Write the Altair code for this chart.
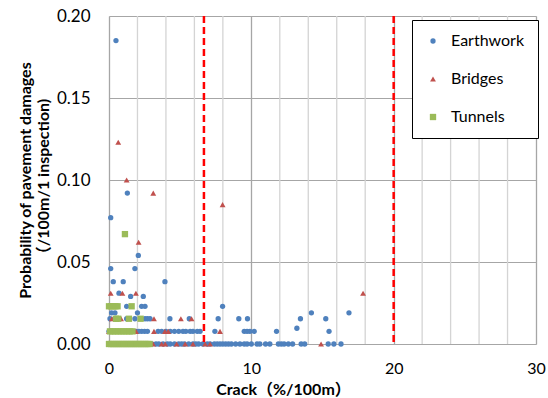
import altair as alt
import pandas as pd

series_names = ["Earthwork", "Bridges", "Tunnels"]
series_colors = ["#4F81BD", "#C0504D", "#9BBB59"]
series_shapes = ["circle", "triangle-up", "square"]

earthwork_points = [
    (0.49, 0.185), (1.29, 0.092), (0.12, 0.077), (2.06, 0.054),
    (0.12, 0.046), (1.82, 0.046), (0.3, 0.038), (1.0, 0.038), (3.93, 0.038),
    (0.7, 0.031), (1.52, 0.029), (2.41, 0.029),
    (1.24, 0.023), (2.29, 0.023), (2.53, 0.023), (7.98, 0.023),
    (0.18, 0.019), (0.42, 0.019), (2.0, 0.019), (14.22, 0.019), (16.86, 0.019),
    (0.07, 0.0154), (0.4, 0.0154), (1.24, 0.0154), (1.82, 0.0154), (2.53, 0.0154),
    (2.7, 0.0154), (2.88, 0.0154), (4.28, 0.0154), (5.64, 0.0154), (7.67, 0.0154),
    (9.12, 0.0154), (9.73, 0.0154), (13.45, 0.0154), (15.23, 0.0154),
    (13.2, 0.0096),
    (0.0, 0.0077), (0.15, 0.0077), (1.7, 0.0077), (1.9, 0.0077), (2.1, 0.0077),
    (2.3, 0.0077), (2.5, 0.0077), (2.7, 0.0077), (3.45, 0.0077), (3.7, 0.0077),
    (4.0, 0.0077), (4.3, 0.0077), (4.6, 0.0077), (4.9, 0.0077), (5.2, 0.0077),
    (5.4, 0.0077), (5.7, 0.0077), (5.9, 0.0077), (6.2, 0.0077), (6.4, 0.0077),
    (7.44, 0.0077), (9.5, 0.0077), (9.7, 0.0077), (9.9, 0.0077), (10.2, 0.0077),
    (11.77, 0.0077), (15.46, 0.0077),
    (3.0, 0.0), (3.3, 0.0), (3.5, 0.0), (3.8, 0.0), (4.1, 0.0), (4.3, 0.0),
    (4.6, 0.0), (4.9, 0.0), (5.1, 0.0), (5.3, 0.0), (5.6, 0.0), (5.9, 0.0),
    (6.1, 0.0), (6.3, 0.0), (6.6, 0.0), (6.9, 0.0), (7.1, 0.0), (7.4, 0.0),
    (7.6, 0.0), (7.8, 0.0), (8.0, 0.0), (8.2, 0.0), (8.4, 0.0), (8.6, 0.0),
    (8.9, 0.0), (9.2, 0.0), (9.5, 0.0), (9.7, 0.0), (10.0, 0.0), (10.4, 0.0),
    (10.6, 0.0), (11.0, 0.0), (11.3, 0.0), (11.9, 0.0), (12.1, 0.0), (12.3, 0.0),
    (12.6, 0.0), (12.9, 0.0), (13.5, 0.0), (13.75, 0.0), (15.4, 0.0), (15.8, 0.0),
    (16.3, 0.0),
]

bridges_points = [
    (0.65, 0.123), (1.24, 0.100), (3.11, 0.092), (7.98, 0.085), (2.08, 0.062),
    (0.12, 0.031), (0.94, 0.031), (1.89, 0.031), (17.85, 0.031),
    (0.2, 0.0154), (0.85, 0.0154), (3.16, 0.0154), (5.05, 0.0154), (5.8, 0.0154),
    (0.0, 0.0077), (1.9, 0.0077), (3.16, 0.0077), (3.93, 0.0077), (4.16, 0.0077),
    (7.8, 0.0077),
    (1.5, 0.0), (3.1, 0.0), (3.7, 0.0), (3.95, 0.0), (4.75, 0.0), (5.35, 0.0),
    (5.9, 0.0), (6.75, 0.0), (7.1, 0.0), (14.9, 0.0),
]

tunnels_points = [
    (1.12, 0.067),
    (0.0, 0.023), (0.15, 0.023), (0.3, 0.023), (0.45, 0.023), (0.6, 0.023), (1.59, 0.023),
    (0.49, 0.0154), (0.65, 0.0154), (1.4, 0.0154), (2.22, 0.0154),
    (0.07, 0.0077), (0.25, 0.0077), (0.45, 0.0077), (0.65, 0.0077), (0.85, 0.0077),
    (1.05, 0.0077), (1.25, 0.0077), (1.45, 0.0077), (1.65, 0.0077),
    (0.0, 0.0), (0.15, 0.0), (0.3, 0.0), (0.45, 0.0), (0.6, 0.0), (0.75, 0.0),
    (0.9, 0.0), (1.05, 0.0), (1.2, 0.0), (1.35, 0.0), (1.5, 0.0), (1.65, 0.0),
    (1.8, 0.0), (1.95, 0.0), (2.1, 0.0), (2.25, 0.0), (2.4, 0.0), (2.55, 0.0),
    (2.7, 0.0), (2.85, 0.0),
]

threshold_x = [6.67, 20]
x_major_values = [0, 10, 20, 30]
x_minor_grid = [2, 4, 6, 8, 12, 14, 16, 18, 22, 24, 26, 28]
y_tick_values = [0.0, 0.05, 0.10, 0.15, 0.20]

rows = []
for name, pts in zip(series_names, [earthwork_points, bridges_points, tunnels_points]):
    for x, y in pts:
        rows.append({"crack": x, "prob": y, "series": name})
df = pd.DataFrame(rows)

FONT = "Lato, 'Noto Sans CJK JP', sans-serif"
x_scale = alt.Scale(domain=[0, 30], nice=False, zero=False)

x_enc = alt.X(
    "crack:Q",
    scale=x_scale,
    axis=alt.Axis(
        values=x_major_values,
        labelOverlap=False,
        labelFlush=False,
        gridColor="#A6A6A6",
        gridWidth=1.3,
        ticks=False,
        domain=False,
        labelPadding=16,
        labelFontSize=16,
        labelFont=FONT,
        labelColor="#000000",
        title="Crack（%/100m）",
        titleFont=FONT,
        titleFontSize=16,
        titleFontWeight="bold",
        titleColor="#000000",
        titleX=174,
        titleY=50,
        titleAlign="center",
        titleBaseline="alphabetic",
    ),
)

y_enc = alt.Y(
    "prob:Q",
    scale=alt.Scale(domain=[0, 0.2], nice=False),
    axis=alt.Axis(
        values=y_tick_values,
        format=".2f",
        labelOverlap=False,
        gridColor="#A6A6A6",
        gridWidth=1.2,
        ticks=False,
        domain=False,
        labelPadding=19,
        labelFontSize=17,
        labelFont=FONT,
        labelColor="#000000",
        title=["Probability of pavement damages", "（/100m/1 inspection)"],
        titleFont=FONT,
        titleFontSize=16,
        titleFontWeight="bold",
        titleColor="#000000",
        titleLineHeight=18,
        titlePadding=5,
    ),
)

legend_opts = dict(
    title=None,
    orient="none",
    legendX=303,
    legendY=4,
    fillColor="#FFFFFF",
    strokeColor="#000000",
    padding=13,
    rowPadding=22,
    labelFontSize=16,
    labelFont=FONT,
    labelColor="#000000",
    labelOffset=10,
    symbolSize=18,
    symbolStrokeWidth=0,
)

minor_df = pd.DataFrame({"crack": x_minor_grid})
minor_grid = alt.Chart(minor_df).mark_rule(color="#D4D4D4", strokeWidth=1.3).encode(
    x=alt.X("crack:Q", scale=x_scale)
)

points = alt.Chart(df).mark_point(filled=True, opacity=1).encode(
    x=x_enc,
    y=y_enc,
    color=alt.Color(
        "series:N",
        scale=alt.Scale(domain=series_names, range=series_colors),
        legend=alt.Legend(**legend_opts),
    ),
    shape=alt.Shape(
        "series:N",
        scale=alt.Scale(domain=series_names, range=series_shapes),
        legend=alt.Legend(**legend_opts),
    ),
    size=alt.Size(
        "series:N",
        scale=alt.Scale(domain=series_names, range=[28, 40, 30]),
        legend=None,
    ),
)

thr_df = pd.DataFrame({"crack": threshold_x})
rules = alt.Chart(thr_df).mark_rule(color="#FF0000", strokeWidth=2.5, strokeDash=[7, 4]).encode(
    x=alt.X("crack:Q", scale=x_scale)
)

chart = alt.layer(minor_grid, points, rules).properties(
    width=427,
    height=328,
    autosize=alt.AutoSizeParams(type="none"),
    padding={"left": 109, "top": 16, "right": 12, "bottom": 54},
).configure_view(
    stroke="#8C8C8C",
    strokeWidth=1.5,
).configure(background="#FFFFFF")

chart.save("out.html", embed_options={"renderer": "svg", "actions": False})
